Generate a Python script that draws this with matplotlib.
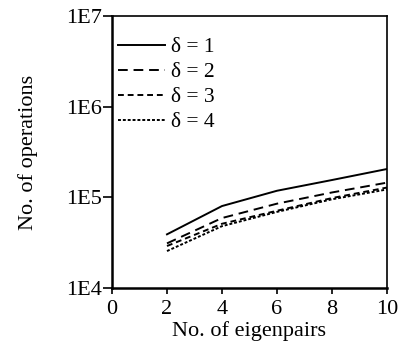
import matplotlib
matplotlib.use("Agg")
import matplotlib.pyplot as plt

plt.rcParams['font.family'] = ['Liberation Serif', 'DejaVu Serif']

# data
eigenpairs = [2, 4, 6, 8, 10]
ops_d1 = [3.9e4, 8.0e4, 1.18e5, 1.55e5, 2.05e5]
ops_d2 = [3.1e4, 5.9e4, 8.5e4, 1.13e5, 1.45e5]
ops_d3 = [2.9e4, 5.1e4, 7.1e4, 9.8e4, 1.28e5]
ops_d4 = [2.55e4, 4.8e4, 6.9e4, 9.5e4, 1.22e5]
labels = ['δ = 1', 'δ = 2', 'δ = 3', 'δ = 4']
ytick_vals = [1e4, 1e5, 1e6, 1e7]
ytick_labels = ['1E4', '1E5', '1E6', '1E7']

fig = plt.figure(figsize=(4.05, 3.59), dpi=100)
ax = fig.add_axes([0.2765, 0.198, 0.679, 0.7575])

styles = ['-', (0, (5, 3)), (0, (3, 2)), (0, (1.5, 1))]
for ys, ls, lab in zip([ops_d1, ops_d2, ops_d3, ops_d4], styles, labels):
    ax.plot(eigenpairs, ys, color='black', linestyle=ls, linewidth=1.4, label=lab)

ax.set_yscale('log')
ax.set_ylim(1e4, 1e7)
ax.set_xlim(0, 10)
ax.set_yticks(ytick_vals)
ax.set_yticklabels(ytick_labels)
ax.yaxis.set_minor_locator(matplotlib.ticker.NullLocator())
ax.set_xticks([0, 2, 4, 6, 8, 10])

ax.tick_params(axis='both', direction='out', labelsize=16, width=1.2)
ax.tick_params(axis='x', length=4.5, pad=4.5)
ax.tick_params(axis='y', length=6.5, pad=1)
for s in ['left', 'bottom']:
    ax.spines[s].set_linewidth(1.8)
for s in ['top', 'right']:
    ax.spines[s].set_linewidth(1.2)

ax.set_xlabel('No. of eigenpairs', fontsize=16, labelpad=1)
ax.set_ylabel('No. of operations', fontsize=16, labelpad=20)

ax.legend(loc='upper left', bbox_to_anchor=(0.022, 0.922), frameon=False,
          fontsize=15.5, handlelength=2.2, handletextpad=0.25,
          labelspacing=0.23, borderaxespad=0, borderpad=0)

fig.savefig('out.png', dpi=100)
